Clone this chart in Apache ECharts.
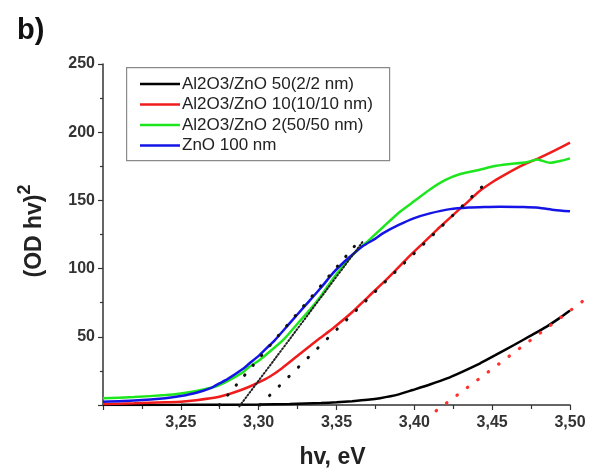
<!DOCTYPE html>
<html>
<head>
<meta charset="utf-8">
<script src="https://cdn.jsdelivr.net/npm/echarts@6/dist/echarts.min.js"></script>
<style>html,body{margin:0;padding:0;background:#fff}#c{width:589px;height:475px}</style>
</head>
<body>
<div id="c"></div>
<script>
// ---- data ----
const seriesNames = ['Al2O3/ZnO 50(2/2 nm)', 'Al2O3/ZnO 10(10/10 nm)', 'Al2O3/ZnO 2(50/50 nm)', 'ZnO 100 nm'];

const xBlack = [3.200, 3.250, 3.300, 3.320, 3.340, 3.350, 3.360, 3.370, 3.378, 3.390, 3.399, 3.410, 3.421, 3.430, 3.442, 3.452, 3.464, 3.475, 3.485, 3.493, 3.500];
const yBlack = [0, 0.1, 0.4, 0.8, 1.5, 2, 2.8, 3.8, 5, 7.8, 11, 15, 19.5, 24, 30.4, 36.5, 44, 51, 57.5, 63.5, 69.3];

const xRed = [3.200, 3.220, 3.240, 3.250, 3.260, 3.2747, 3.285, 3.294, 3.300, 3.307, 3.315, 3.326, 3.339, 3.348, 3.360, 3.371, 3.383, 3.395, 3.405, 3.415, 3.429, 3.4335, 3.441, 3.451, 3.460, 3.470, 3.480, 3.490, 3.500];
const yRed = [0.7, 1.2, 2, 2.4, 3.5, 6, 9.5, 13.4, 16.5, 20.7, 27, 37, 48.7, 56.5, 68, 80, 93, 107, 118, 129, 143.6, 148, 156, 164, 170, 176, 181, 186.5, 192.3];

const xGreen = [3.200, 3.220, 3.240, 3.250, 3.260, 3.270, 3.2747, 3.280, 3.290, 3.294, 3.300, 3.307, 3.3166, 3.326, 3.333, 3.340, 3.348, 3.355, 3.360, 3.365, 3.370, 3.380, 3.390, 3.400, 3.410, 3.420, 3.430, 3.442, 3.451, 3.460, 3.472, 3.479, 3.487, 3.494, 3.500];
const yGreen = [4.9, 5.8, 7.3, 8.5, 10.3, 12.8, 14.6, 17.5, 24, 28, 32.5, 39, 48.7, 61, 70, 80, 93, 103, 109.5, 115, 120, 130.5, 141, 149.5, 158, 165, 169.5, 172.5, 175, 176.5, 178, 180, 177.6, 179, 180.8];

const xBlue = [3.200, 3.220, 3.240, 3.250, 3.260, 3.270, 3.2747, 3.280, 3.290, 3.294, 3.300, 3.307, 3.310, 3.320, 3.330, 3.340, 3.348, 3.355, 3.360, 3.367, 3.375, 3.380, 3.390, 3.400, 3.410, 3.423, 3.435, 3.445, 3.455, 3.470, 3.480, 3.490, 3.500];
const yBlue = [2.4, 3.3, 5, 6.6, 9, 12.8, 15.8, 19, 26.5, 30.4, 36, 43.8, 47, 60, 73, 86, 97, 105, 110, 116.5, 122, 126, 132, 137, 140.5, 143.6, 144.8, 145.2, 145.4, 145.2, 144.6, 143, 142];

// linear fit (tangent) lines, end points
const fitBlueX = [3.2747, 3.365];   const fitBlueY = [0, 121];
const fitGreenX = [3.2876, 3.367];  const fitGreenY = [-1, 120];
const fitRedX = [3.3008, 3.447];    const fitRedY = [0, 164];
const fitBlackX = [3.414, 3.511];   const fitBlackY = [-4.3, 78.5];

const xTicks = [3.20, 3.25, 3.30, 3.35, 3.40, 3.45, 3.50];
const yTicks = [0, 50, 100, 150, 200, 250];

// ---- build ----
const W = 589;
const FONT = 'Arial, "Liberation Sans", sans-serif';
const pair = (xs, ys) => xs.map((x, i) => [x, ys[i]]);
const colors = ['#000000', '#f01c1c', '#1ee61e', '#1414e6'];

const mainSeries = [
  [xBlack, yBlack], [xRed, yRed], [xGreen, yGreen], [xBlue, yBlue]
].map((d, i) => ({
  name: seriesNames[i], type: 'line', data: pair(d[0], d[1]),
  showSymbol: false, symbol: 'none', smooth: 0.2,
  lineStyle: { color: colors[i], width: 2.5 }, itemStyle: { color: colors[i] },
  z: 2
}));

function fit(xs, ys, color, dash, width, axisIdx) {
  return {
    type: 'line', data: pair(xs, ys), showSymbol: false, symbol: 'none',
    clip: false, silent: true, z: 5, xAxisIndex: axisIdx || 0, yAxisIndex: axisIdx || 0,
    lineStyle: { color: color, width: width, type: dash, cap: 'round' }
  };
}

// second, invisible grid with the same x scale reaching the right edge of the page,
// so the red fit line can run past the end of the axis as in the reference
const GL = 103, GR = 19, PW = W - GL - GR;
const xMin = xTicks[0], xMax = xTicks[xTicks.length - 1];
const pxPerX = PW / (xMax - xMin);
const xOverflowMax = xMin + (W - GL) / pxPerX;

const chart = echarts.init(document.getElementById('c'), null, { renderer: 'canvas' });
chart.setOption({
  animation: false,
  backgroundColor: '#fff',
  textStyle: { fontFamily: FONT },
  title: { text: 'b)', left: 12, top: 11, textStyle: { fontSize: 29, fontWeight: 'bold', color: '#111', fontFamily: FONT } },
  grid: [
    { left: GL, right: GR, top: 64, bottom: 70 },
    { left: GL, right: 0, top: 64, bottom: 70 }
  ],
  legend: {
    data: seriesNames, orient: 'vertical', left: 140, top: 75,
    icon: 'rect', itemWidth: 40, itemHeight: 2.6, itemGap: 2.5, padding: 0,
    textStyle: { fontSize: 17, color: '#222', fontFamily: FONT, lineHeight: 18, padding: [0, 0, 0, -3] }
  },
  graphic: [{
    type: 'rect', left: 126, top: 67, shape: { width: 263, height: 93 },
    style: { fill: 'transparent', stroke: '#8a8a8a', lineWidth: 1.2 }, z: 1
  }, {
    type: 'text', x: 31, y: 231, rotation: Math.PI / 2,
    style: {
      text: '{a|(OD hv)}{b|2}', align: 'center', verticalAlign: 'middle',
      rich: {
        a: { fontSize: 23, fontWeight: 'bold', fill: '#222', fontFamily: FONT, lineHeight: 30, verticalAlign: 'bottom' },
        b: { fontSize: 18, fontWeight: 'bold', fill: '#222', fontFamily: FONT, lineHeight: 30, verticalAlign: 'top' }
      }
    }
  }],
  xAxis: [{
    type: 'value', min: xMin, max: xMax, interval: 0.05,
    name: 'hv, eV', nameLocation: 'middle', nameGap: 41,
    nameTextStyle: { fontSize: 23, fontWeight: 'bold', color: '#222', fontFamily: FONT, padding: [0, 8, 0, 0] },
    axisLine: { lineStyle: { color: '#333', width: 1.5 } },
    axisTick: { length: 5, lineStyle: { color: '#333', width: 1.2 } },
    minorTick: { show: true, splitNumber: 2, length: 4, lineStyle: { color: '#333', width: 1.2 } },
    splitLine: { show: false },
    axisLabel: { showMinLabel: false, fontSize: 16, fontWeight: 'bold', color: '#333', margin: 10, fontFamily: FONT,
      formatter: v => v.toFixed(2).replace('.', ',') }
  }, {
    type: 'value', gridIndex: 1, min: xMin, max: xOverflowMax, show: false
  }],
  yAxis: [{
    type: 'value', min: yTicks[0], max: yTicks[yTicks.length - 1], interval: 50,
    axisLine: { show: true, lineStyle: { color: '#333', width: 1.5 } },
    axisTick: { show: true, length: 5, lineStyle: { color: '#333', width: 1.2 } },
    minorTick: { show: true, splitNumber: 2, length: 3, lineStyle: { color: '#333', width: 1.2 } },
    splitLine: { show: false },
    axisLabel: { showMinLabel: false, fontSize: 16, fontWeight: 'bold', color: '#333', margin: 8, fontFamily: FONT }
  }, {
    type: 'value', gridIndex: 1, min: yTicks[0], max: yTicks[yTicks.length - 1], show: false
  }],
  series: mainSeries.concat([
    fit(fitGreenX, fitGreenY, '#222', [1.2, 2.2], 2),
    fit(fitBlueX, fitBlueY, '#111', [0.5, 12.5], 3),
    fit(fitRedX, fitRedY, '#111', [0.5, 13], 3),
    fit(fitBlackX, fitBlackY, '#ff3030', [0.5, 12.5], 3.2, 1)
  ])
});
</script>
</body>
</html>
